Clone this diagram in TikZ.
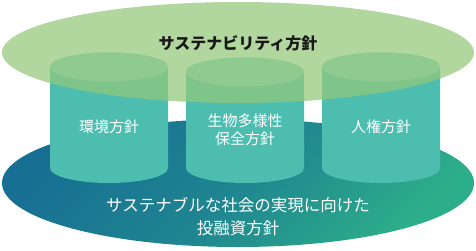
\documentclass[tikz,border=0pt]{standalone}
\usepackage{fontspec}
\newfontfamily\jpfont{Noto Sans CJK JP}
\usepackage{tikz}
\usetikzlibrary{positioning}
\usepackage{xcolor}
\definecolor{leafgreen}{RGB}{147,199,122}
\definecolor{pillarteal}{RGB}{77,189,176}
\definecolor{pillarcapteal}{RGB}{133,213,205}
\definecolor{basedeep}{RGB}{23,111,147}
\definecolor{basemid}{RGB}{31,133,144}
\definecolor{baselight}{RGB}{45,174,138}

\begin{document}
\begin{tikzpicture}[x=1pt, y=1pt,
		pillar/.style={fill=pillarteal},
		pillarcap/.style={fill=pillarcapteal},
		pillartext/.style={text=white, font=\jpfont\fontsize{15}{18}\selectfont, align=center, inner sep=0pt},
		basetext/.style={text=white, font=\jpfont\fontsize{16.5}{23}\selectfont, align=center, inner sep=0pt},
		canopytext/.style={text=black!90, font=\jpfont\bfseries\fontsize{16}{20}\selectfont, inner sep=0pt}
	]
	\useasboundingbox (0,0) rectangle (476,250);
	% base ellipse
	\path[top color=basedeep, bottom color=baselight, middle color=basemid, shading angle=45] (238,67) ellipse[x radius=236, y radius=64];
	% three pillars
	\foreach \cx/\cy in {109/183, 245/178, 381/183} {
		\path[pillar] (\cx-59,\cy) -- (\cx-59,82) arc[start angle=180, end angle=360, x radius=59, y radius=15] -- (\cx+59,\cy) arc[start angle=0, end angle=180, x radius=59, y radius=14.5] -- cycle;
		\path[pillarcap] (\cx,\cy) ellipse[x radius=59, y radius=14.5];
	}
	% canopy ellipse
	\path[fill=leafgreen, fill opacity=0.72] (238,197.5) ellipse[x radius=236, y radius=50.5];
	\node[canopytext] (sustpolicy) at (238,207) {サステナビリティ方針};
	\node[pillartext] (envpolicy) at (109,123) {環境方針};
	\node[pillartext] (biopolicy) at (245,120) {生物多様性\\保全方針};
	\node[pillartext] (rightspolicy) at (381,123) {人権方針};
	\node[basetext] (finpolicy) at (238,33.5) {サステナブルな社会の実現に向けた\\投融資方針};
\end{tikzpicture}
\end{document}
